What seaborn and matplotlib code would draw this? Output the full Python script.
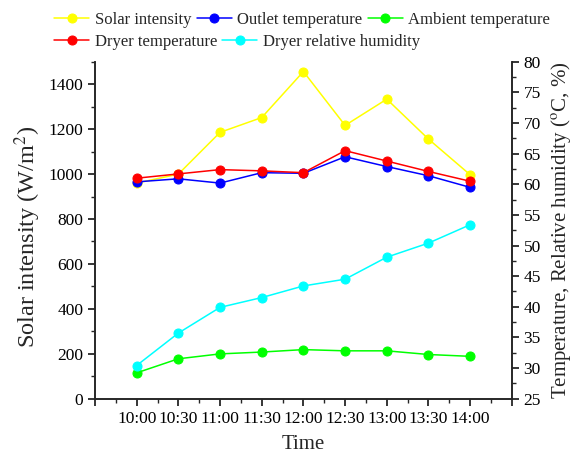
import matplotlib
matplotlib.use("Agg")
import matplotlib.pyplot as plt
import seaborn as sns
import pandas as pd
from matplotlib.ticker import MultipleLocator, FixedLocator

# Measurements over the drying day
times = ["10:00", "10:30", "11:00", "11:30", "12:00", "12:30", "13:00", "13:30", "14:00"]
solar_intensity = [960, 1000, 1186, 1252, 1457, 1217, 1334, 1156, 997]
outlet_temp = [60.4, 60.9, 60.2, 61.9, 61.8, 64.5, 62.9, 61.4, 59.5]
ambient_temp = [29.2, 31.5, 32.3, 32.6, 33.0, 32.8, 32.8, 32.2, 31.9]
dryer_temp = [61.0, 61.7, 62.4, 62.2, 61.9, 65.5, 63.8, 62.1, 60.5]
dryer_rh = [30.4, 35.7, 39.9, 41.5, 43.4, 44.5, 48.1, 50.4, 53.4]

sns.set_style("ticks")
plt.rcParams["font.family"] = ["Liberation Serif", "DejaVu Serif"]
plt.rcParams["mathtext.fontset"] = "stix"

df = pd.DataFrame({
    "pos": range(len(times)),
    "solar": solar_intensity,
    "outlet": outlet_temp,
    "ambient": ambient_temp,
    "dryer": dryer_temp,
    "rh": dryer_rh,
})

fig = plt.figure(figsize=(5.77, 4.55), dpi=100)
ax = fig.add_axes([0.1646, 0.124, 0.7225, 0.740])
ax2 = ax.twinx()

line_kw = dict(marker="o", markersize=6.5, linewidth=1.1, legend=False)

sns.lineplot(data=df, x="pos", y="solar", ax=ax, color="#FFFF00",
             markeredgecolor="#FFFF00", **line_kw)
sns.lineplot(data=df, x="pos", y="outlet", ax=ax2, color="#0000FF",
             markeredgecolor="#0000FF", **line_kw)
sns.lineplot(data=df, x="pos", y="ambient", ax=ax2, color="#00FF00",
             markeredgecolor="#00FF00", **line_kw)
sns.lineplot(data=df, x="pos", y="dryer", ax=ax2, color="#FF0000",
             markeredgecolor="#FF0000", **line_kw)
sns.lineplot(data=df, x="pos", y="rh", ax=ax2, color="#00FFFF",
             markeredgecolor="#00FFFF", **line_kw)

# Axis ranges
n = len(times)
ax.set_xlim(-1, n)
ax.set_ylim(0, 1500)
ax2.set_ylim(25, 80)

# X ticks: labelled majors at each time, unlabelled ends, minors in between
ax.xaxis.set_major_locator(FixedLocator(list(range(-1, n + 1))))
ax.set_xticklabels([""] + times + [""])
ax.xaxis.set_minor_locator(MultipleLocator(0.5))

ax.yaxis.set_major_locator(FixedLocator(list(range(0, 1401, 200))))
ax.yaxis.set_minor_locator(MultipleLocator(100))
ax2.yaxis.set_major_locator(MultipleLocator(5))
ax2.yaxis.set_minor_locator(MultipleLocator(2.5))

for a in (ax, ax2):
    a.tick_params(which="major", direction="out", length=5, width=1.1,
                  labelsize=12.5, colors="black")
    a.tick_params(which="minor", direction="out", length=3, width=1.0)
    for s in a.spines.values():
        s.set_linewidth(1.2)
    a.spines["top"].set_visible(False)
ax.tick_params(axis="x", pad=4)
ax2.tick_params(axis="x", which="both", bottom=False, top=False)

ax.set_xlabel("Time", fontsize=15, labelpad=6)
ax.set_ylabel("Solar intensity (W/m$^2$)", fontsize=17.5, labelpad=4)
ax.yaxis.label.set_y(0.48)
ax2.set_ylabel("Temperature, Relative humidity ($^{\\mathrm{o}}$C, %)", fontsize=15, labelpad=6)

# Legend in two rows above the plot
handles = ax.get_lines()[:1] + ax2.get_lines()[:4]
labels = ["Solar intensity", "Outlet temperature", "Ambient temperature",
          "Dryer temperature", "Dryer relative humidity"]
leg_kw = dict(loc="upper left", frameon=False, fontsize=12, handlelength=2.1,
              handletextpad=0.35, columnspacing=0.3, borderpad=0, borderaxespad=0)
fig.legend(handles[0:3], labels[0:3], ncol=3, bbox_to_anchor=(0.094, 0.974), **leg_kw)
fig.legend([handles[3], handles[4]], labels[3:5], ncol=2,
           bbox_to_anchor=(0.094, 0.926), **leg_kw)

fig.savefig("out.png", dpi=100)
